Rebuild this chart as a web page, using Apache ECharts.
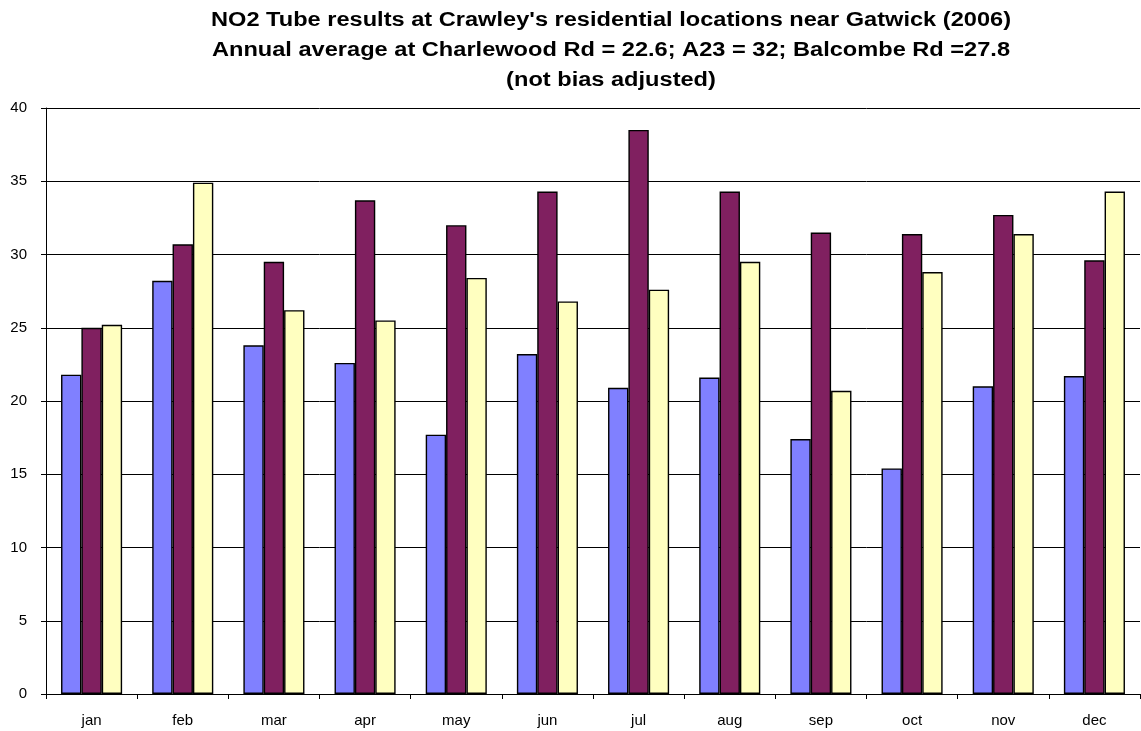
<!DOCTYPE html>
<html>
<head>
<meta charset="utf-8">
<script src="https://cdn.jsdelivr.net/npm/echarts@6/dist/echarts.min.js"></script>
<style>
  html, body { margin: 0; padding: 0; background: #fff; }
  #chart { width: 1141px; height: 731px; }
</style>
</head>
<body>
<div id="chart"></div>
<script>
// Monthly NO2 diffusion tube results (µg/m³), Crawley 2006
const months = ['jan', 'feb', 'mar', 'apr', 'may', 'jun', 'jul', 'aug', 'sep', 'oct', 'nov', 'dec'];
const charlewoodRd = [21.8, 28.2, 23.8, 22.6, 17.7, 23.2, 20.9, 21.6, 17.4, 15.4, 21.0, 21.7];
const a23 = [25.0, 30.7, 29.5, 33.7, 32.0, 34.3, 38.5, 34.3, 31.5, 31.4, 32.7, 29.6];
const balcombeRd = [25.2, 34.9, 26.2, 25.5, 28.4, 26.8, 27.6, 29.5, 20.7, 28.8, 31.4, 34.3];
const yTicks = [0, 5, 10, 15, 20, 25, 30, 35, 40];

const titleLines = [
  "NO2 Tube results at Crawley's residential locations near Gatwick (2006)",
  'Annual average at Charlewood Rd = 22.6; A23 = 32; Balcombe Rd =27.8',
  '(not bias adjusted)'
];

const font = '"Liberation Sans", Arial, sans-serif';

function barSeries(name, data, color) {
  return {
    name: name,
    type: 'bar',
    data: data,
    barGap: '0%',
    barCategoryGap: '33%',
    itemStyle: { color: color, borderColor: '#000', borderWidth: 1.4 },
    emphasis: { disabled: true }
  };
}

// Title lines drawn as text elements, slightly widened like the original typeface
const titleGraphics = titleLines.map(function (line, i) {
  return {
    type: 'text',
    x: 611,
    y: 20 + i * 30,
    scaleX: 1.18,
    silent: true,
    style: {
      text: line,
      fontFamily: font,
      fontWeight: 'bold',
      fontSize: 20,
      fill: '#000',
      textAlign: 'center',
      textVerticalAlign: 'middle'
    }
  };
});

const chart = echarts.init(document.getElementById('chart'));
chart.setOption({
  animation: false,
  backgroundColor: '#fff',
  graphic: { elements: titleGraphics },
  grid: { left: 46, right: 1, top: 108, bottom: 37, containLabel: false },
  xAxis: {
    type: 'category',
    data: months,
    axisLine: { lineStyle: { color: '#000', width: 1 } },
    axisTick: { show: true, length: 5, inside: false, lineStyle: { color: '#000' } },
    axisLabel: { fontFamily: font, fontSize: 15, color: '#000', margin: 19 }
  },
  yAxis: {
    type: 'value',
    min: yTicks[0],
    max: yTicks[yTicks.length - 1],
    interval: 5,
    axisLine: { show: true, lineStyle: { color: '#000', width: 1 } },
    axisTick: { show: true, length: 5, lineStyle: { color: '#000' } },
    axisLabel: { fontFamily: font, fontSize: 15, color: '#000', margin: 19 },
    splitLine: { show: true, lineStyle: { color: '#000', width: 1 } }
  },
  series: [
    barSeries('Charlewood Rd', charlewoodRd, '#8080FF'),
    barSeries('A23', a23, '#802060'),
    barSeries('Balcombe Rd', balcombeRd, '#FFFFC0')
  ]
});
</script>
</body>
</html>
